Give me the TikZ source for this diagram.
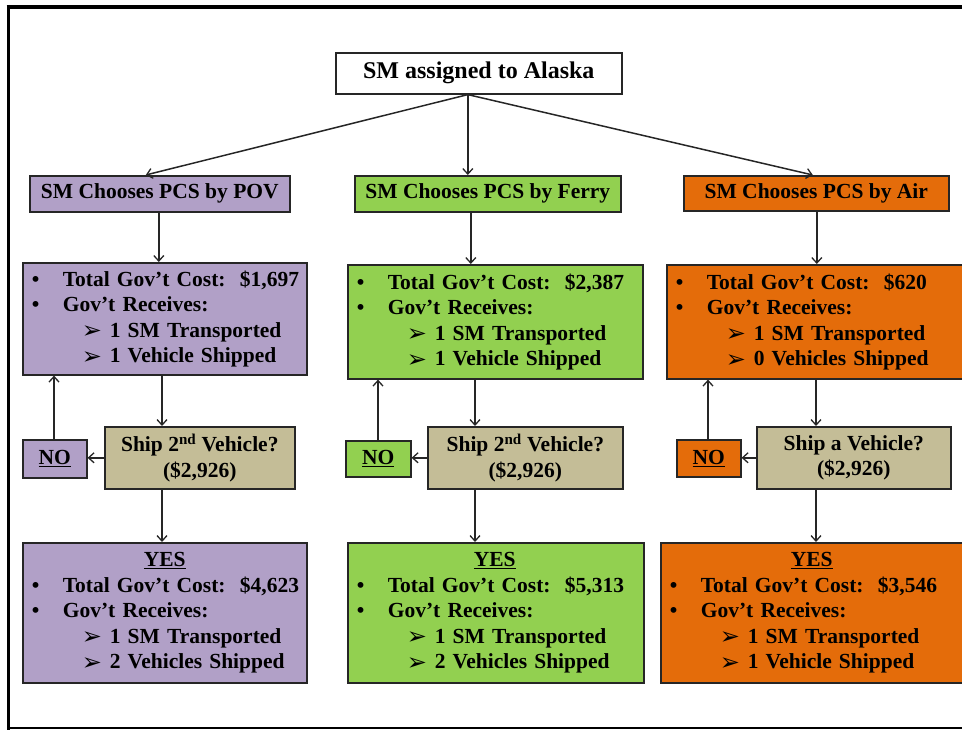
\documentclass[tikz,border=0pt]{standalone}
\usepackage{fontspec}
\setmainfont{Liberation Serif}
\newfontfamily\symfont{DejaVu Sans}
\usetikzlibrary{arrows.meta,calc}
\definecolor{povc}{HTML}{B1A0C7}
\definecolor{ferc}{HTML}{92D050}
\definecolor{airc}{HTML}{E46C0A}
\definecolor{decc}{HTML}{C4BD97}
\definecolor{edge}{HTML}{262626}
\newcommand{\bulline}[1]{\mbox{\makebox[31pt][l]{\textbullet}#1}}
\newcommand{\subline}[1]{\mbox{\hspace*{50pt}\makebox[28pt][l]{\raisebox{-1.5pt}{\symfont\fontsize{24}{24}\selectfont ➢}}#1}}
\tikzset{
  box/.style={draw=edge, line width=1.6pt, anchor=north west, inner ysep=0pt,
    font=\fontsize{21.5}{25.5}\selectfont\bfseries},
  infobox/.style={box, inner xsep=9pt, align=left},
  cbox/.style={box, inner xsep=0pt, align=center},
  arr/.style={draw=edge, line width=1.5pt, -{Straight Barb[length=5.5pt,width=10pt,line width=1.3pt]}}
}
\begin{document}
\begin{tikzpicture}[x=1pt,y=-1pt]
\useasboundingbox (0,0) rectangle (962,730);
\clip (0,0) rectangle (962,730);
% frame
\draw[line width=3.5pt] (8.3,5) -- (8.3,730);
\draw[line width=4pt] (6.5,7) -- (962,7);
\draw[line width=2pt] (8,728) -- (962,728);

% title
\node[cbox, fill=white, minimum width=286pt, minimum height=41pt, font=\fontsize{24}{28}\selectfont\bfseries] (title) at (335,52) {SM assigned to Alaska};

% headers
\node[cbox, fill=povc, minimum width=260pt, minimum height=36pt] (povh) at (29,175) {SM Chooses PCS by POV};
\node[cbox, fill=ferc, minimum width=266pt, minimum height=36pt] (ferh) at (354,175) {SM Chooses PCS by Ferry};
\node[cbox, fill=airc, minimum width=265pt, minimum height=35pt] (airh) at (683,175) {SM Chooses PCS by Air};

% info boxes
\node[infobox, fill=povc, text width=266pt, minimum height=112pt] (povi) at (22,262) {%
\bulline{Total Gov’t Cost:\ \ \$1,697}\\
\bulline{Gov’t Receives:}\\
\subline{1 SM Transported}\\
\subline{1 Vehicle Shipped}};
\node[infobox, fill=ferc, text width=277pt, minimum height=114pt] (feri) at (347,264) {%
\bulline{Total Gov’t Cost:\ \ \$2,387}\\
\bulline{Gov’t Receives:}\\
\subline{1 SM Transported}\\
\subline{1 Vehicle Shipped}};
\node[infobox, fill=airc, text width=291pt, minimum height=114pt] (airi) at (666,264) {%
\bulline{Total Gov’t Cost:\ \ \$620}\\
\bulline{Gov’t Receives:}\\
\subline{1 SM Transported}\\
\subline{0 Vehicles Shipped}};

% decisions
\node[cbox, fill=decc, minimum width=190pt, minimum height=62pt] (povd) at (104,426) {Ship 2\textsuperscript{nd} Vehicle?\\(\$2,926)};
\node[cbox, fill=decc, minimum width=195pt, minimum height=62pt] (ferd) at (427,426) {Ship 2\textsuperscript{nd} Vehicle?\\(\$2,926)};
\node[cbox, fill=decc, minimum width=194pt, minimum height=62pt] (aird) at (756,426) {Ship a Vehicle?\\(\$2,926)};

% NO boxes
\node[cbox, fill=povc, minimum width=64pt, minimum height=38pt] (povn) at (22,439) {\underline{NO}};
\node[cbox, fill=ferc, minimum width=65pt, minimum height=36pt] (fern) at (345,440) {\underline{NO}};
\node[cbox, fill=airc, minimum width=64pt, minimum height=37pt] (airn) at (676,439) {\underline{NO}};

% YES boxes
\node[infobox, fill=povc, text width=266pt, minimum height=140pt] (povy) at (22,542) {%
\mbox{\hspace*{112pt}\underline{YES}}\\
\bulline{Total Gov’t Cost:\ \ \$4,623}\\
\bulline{Gov’t Receives:}\\
\subline{1 SM Transported}\\
\subline{2 Vehicles Shipped}};
\node[infobox, fill=ferc, text width=278pt, minimum height=140pt] (fery) at (347,542) {%
\mbox{\hspace*{117pt}\underline{YES}}\\
\bulline{Total Gov’t Cost:\ \ \$5,313}\\
\bulline{Gov’t Receives:}\\
\subline{1 SM Transported}\\
\subline{2 Vehicles Shipped}};
\node[infobox, fill=airc, text width=297pt, minimum height=140pt] (airy) at (660,542) {%
\mbox{\hspace*{121pt}\underline{YES}}\\
\bulline{Total Gov’t Cost:\ \ \$3,546}\\
\bulline{Gov’t Receives:}\\
\subline{1 SM Transported}\\
\subline{1 Vehicle Shipped}};

% title to headers
\coordinate (t0) at ($(title.south)+(-11,0)$);
\draw[arr] (t0) -- ($(povh.north)+(-14,0)$);
\draw[arr] (t0) -- ($(ferh.north)+(-20,0)$);
\draw[arr] (t0) -- ($(airh.north)+(-3.5,0)$);

% headers to info
\coordinate (p1) at ($(povh.south)+(-1,0)$);
\coordinate (f1) at ($(ferh.south)+(-17,0)$);
\coordinate (a1) at ($(airh.south)+(0.5,0)$);
\draw[arr] (p1) -- (p1 |- povi.north);
\draw[arr] (f1) -- (f1 |- feri.north);
\draw[arr] (a1) -- (a1 |- airi.north);

% info to decisions and decisions to YES
\coordinate (p2) at (162,0);
\coordinate (f2) at (475,0);
\coordinate (a2) at (816,0);
\draw[arr] (p2 |- povi.south) -- (p2 |- povd.north);
\draw[arr] (f2 |- feri.south) -- (f2 |- ferd.north);
\draw[arr] (a2 |- airi.south) -- (a2 |- aird.north);
\draw[arr] (p2 |- povd.south) -- (p2 |- povy.north);
\draw[arr] (f2 |- ferd.south) -- (f2 |- fery.north);
\draw[arr] (a2 |- aird.south) -- (a2 |- airy.north);

% decisions to NO
\draw[arr] (povd.west) -- (povd.west -| povn.east);
\draw[arr] (ferd.west) -- (ferd.west -| fern.east);
\draw[arr] (aird.west) -- (aird.west -| airn.east);

% NO back up to info
\coordinate (p3) at (54,0);
\coordinate (f3) at (378,0);
\coordinate (a3) at (708,0);
\draw[arr] (p3 |- povn.north) -- (p3 |- povi.south);
\draw[arr] (f3 |- fern.north) -- (f3 |- feri.south);
\draw[arr] (a3 |- airn.north) -- (a3 |- airi.south);
\end{tikzpicture}
\end{document}
